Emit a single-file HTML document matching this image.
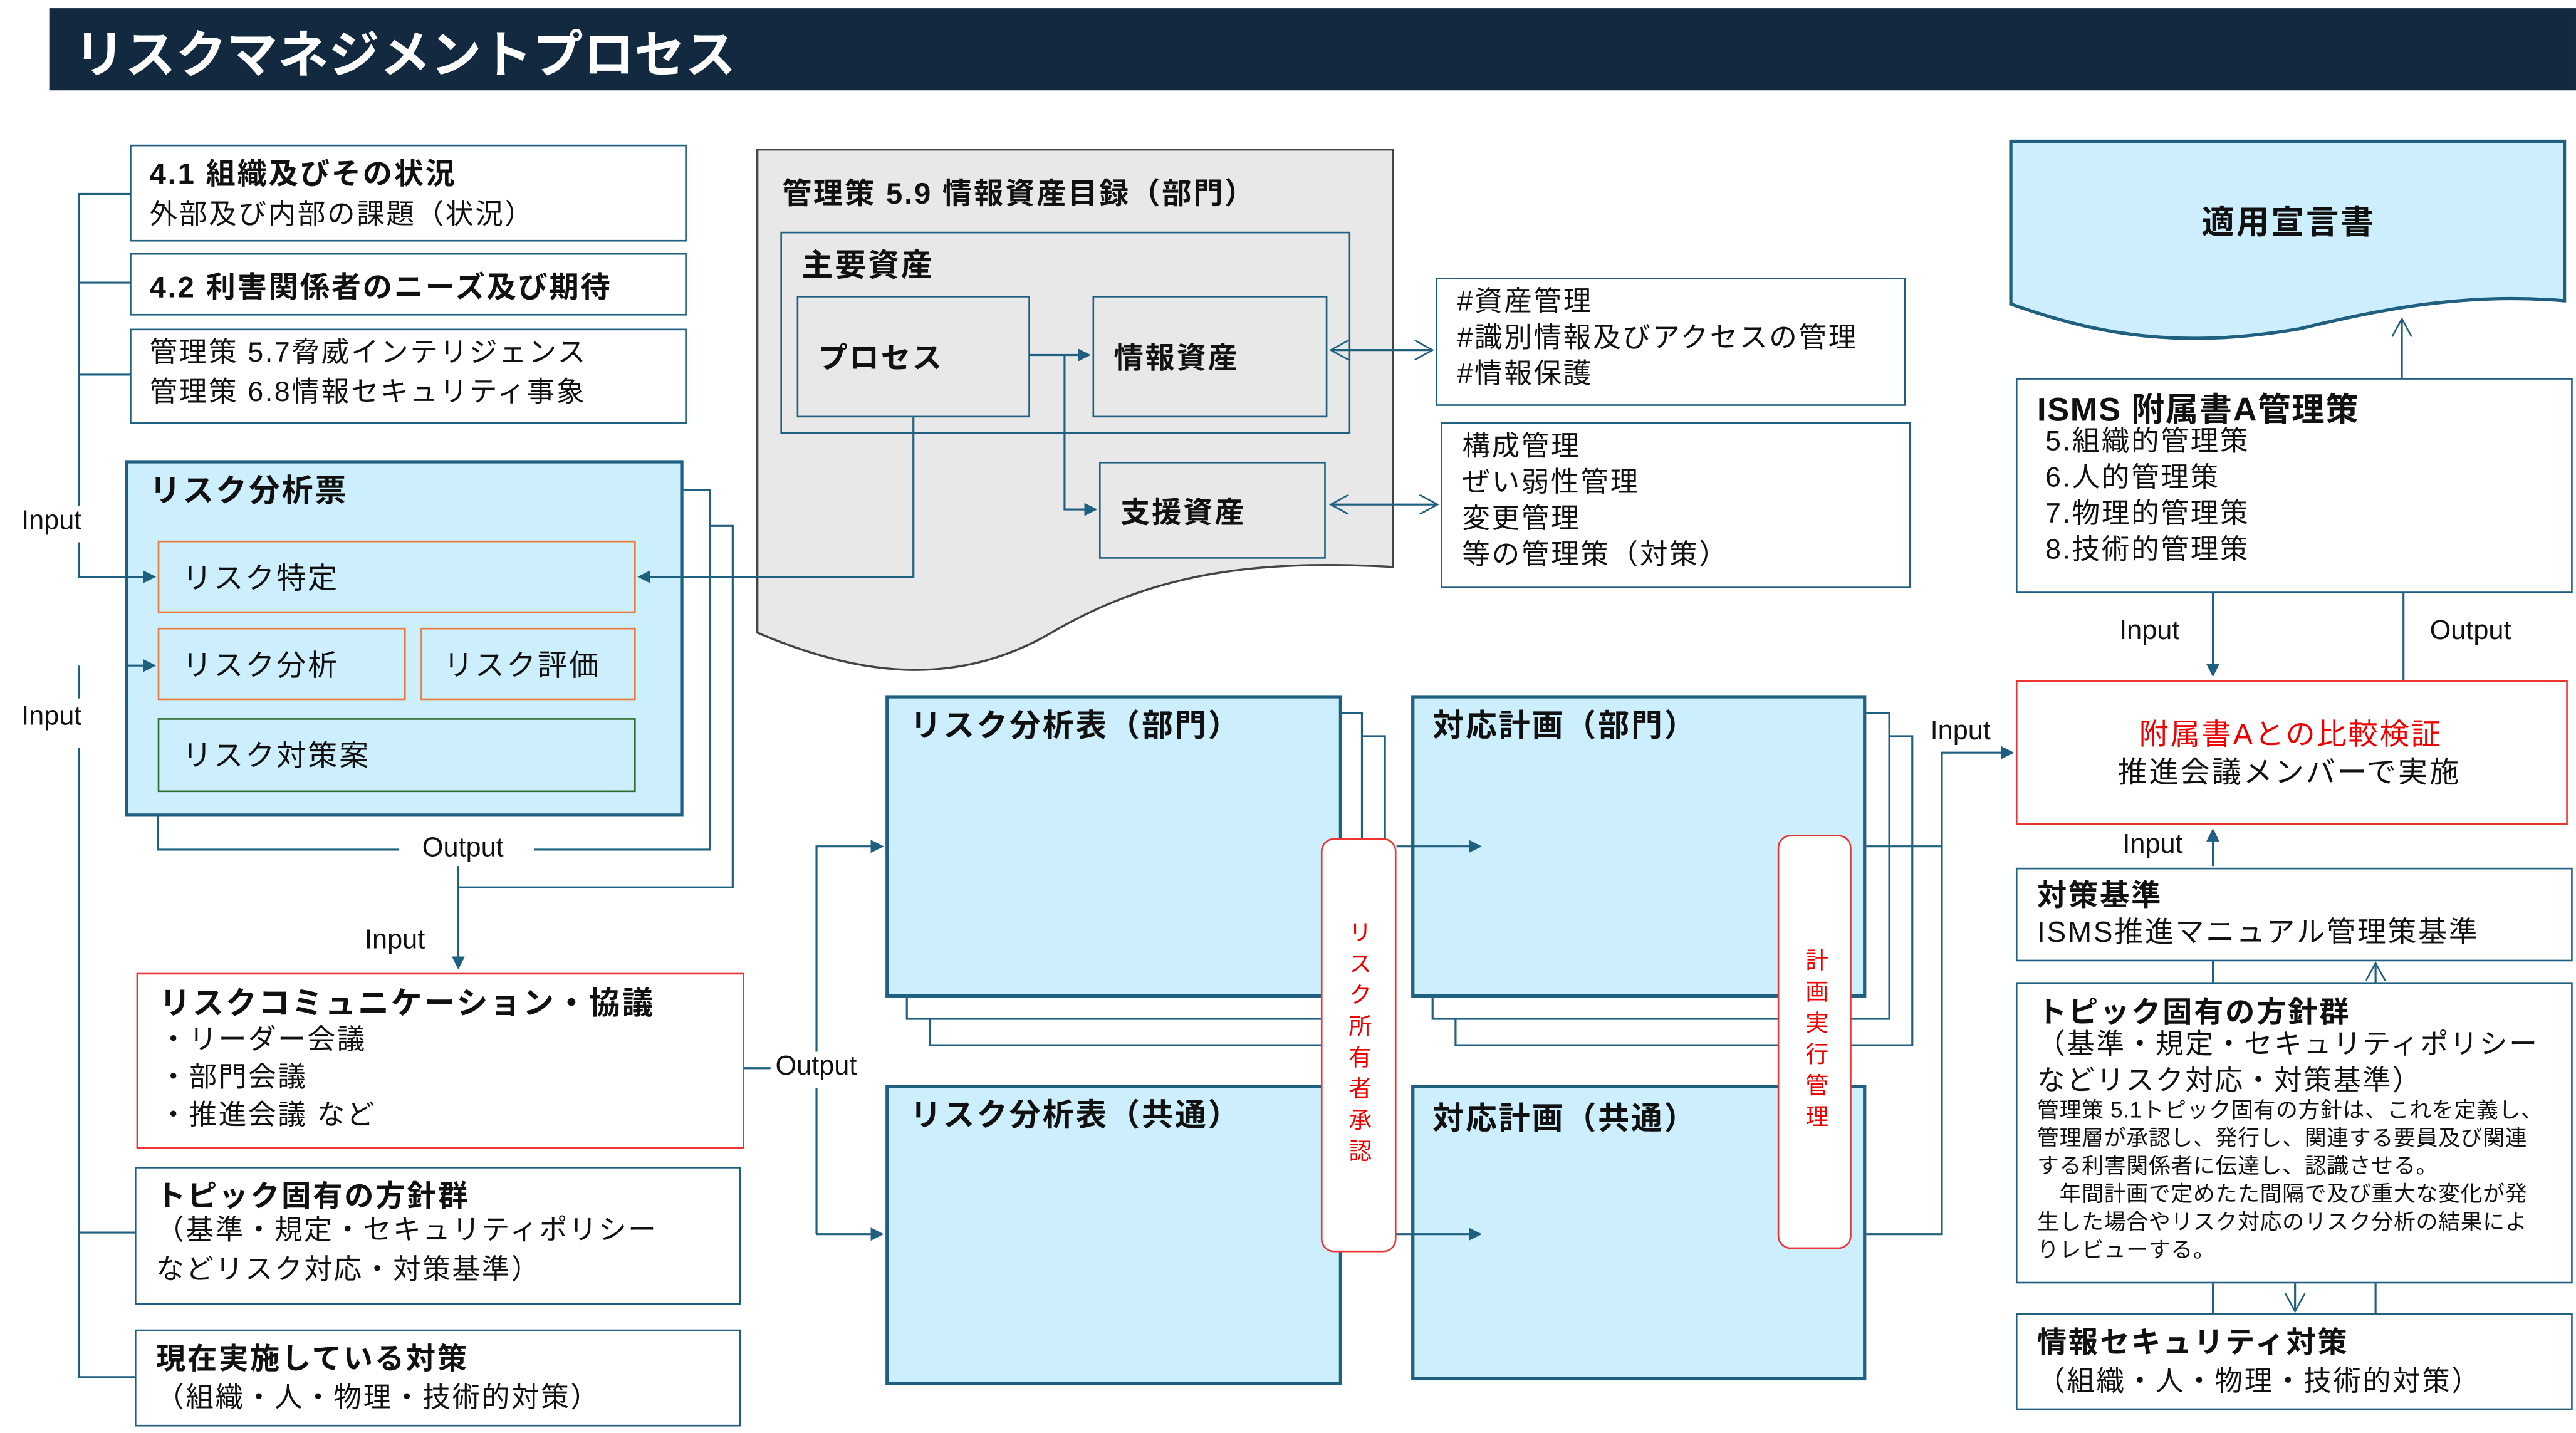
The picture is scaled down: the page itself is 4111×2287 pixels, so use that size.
<!DOCTYPE html>
<html><head><meta charset="utf-8">
<style>
html,body{margin:0;padding:0;background:#fff;}
body{width:4111px;height:2287px;overflow:hidden;}
#s{position:absolute;left:0;top:0;width:1568px;height:872px;transform:scale(2.6218,2.6227);transform-origin:0 0;font-family:"Liberation Sans","Noto Sans CJK JP",sans-serif;color:#111;}
.b{position:absolute;box-sizing:border-box;border:1.3px solid #1f5f80;background:#fff;}
.t{position:absolute;white-space:nowrap;letter-spacing:0.06em;}
.bold{font-weight:bold;}
.lb{background:#cdeefc;}
.thick{border:2.5px solid #1f5f80;}
.vt{writing-mode:vertical-rl;color:#e00;font-size:14px;position:absolute;letter-spacing:5px;}
.lab{position:absolute;white-space:nowrap;font-size:16.5px;}
</style></head><body><div id="s">
<div style="position:absolute;left:30px;top:5px;width:1538px;height:50px;background:#12293f;"></div>
<div class="t bold" style="left:45px;top:8px;font-size:31px;color:#fff;letter-spacing:0;">リスクマネジメントプロセス</div>

<svg style="position:absolute;left:0;top:0" width="1568" height="872">
<path d="M461,91 L848,91 L848,345 C760,340 700,350 640,385 C580,420 520,410 461,385 Z" fill="#e8e8e8" stroke="#444" stroke-width="1.3"/>
<path d="M1224,86 L1561,86 L1561,183 C1500,178 1450,188 1400,200 C1330,212 1280,205 1224,185 Z" fill="#cdeefc" stroke="#1f5f80" stroke-width="2"/>
</svg>

<div class="b" style="left:79px;top:88px;width:339px;height:59px;"></div>
<div class="t bold" style="left:91px;top:92px;font-size:18px;">4.1 組織及びその状況</div>
<div class="t" style="left:91px;top:116px;font-size:17px;">外部及び内部の課題（状況）</div>
<div class="b" style="left:79px;top:154px;width:339px;height:38px;"></div>
<div class="t bold" style="left:91px;top:161px;font-size:18px;">4.2 利害関係者のニーズ及び期待</div>
<div class="b" style="left:79px;top:200px;width:339px;height:58px;"></div>
<div class="t" style="left:91px;top:203px;font-size:17px;line-height:24px;">管理策 5.7脅威インテリジェンス<br>管理策 6.8情報セキュリティ事象</div>
<div class="lab" style="left:13px;top:308px;">Input</div>
<div class="lab" style="left:13px;top:427px;">Input</div>

<div class="b lb thick" style="left:76px;top:280px;width:340px;height:217px;"></div>
<div class="t bold" style="left:91px;top:284px;font-size:19px;">リスク分析票</div>
<div class="b lb" style="left:96px;top:329px;width:291px;height:44px;border-color:#e87a3a;"></div>
<div class="t" style="left:111px;top:338px;font-size:18px;">リスク特定</div>
<div class="b lb" style="left:96px;top:382px;width:151px;height:44px;border-color:#e87a3a;"></div>
<div class="t" style="left:111px;top:391px;font-size:18px;">リスク分析</div>
<div class="b lb" style="left:256px;top:382px;width:131px;height:44px;border-color:#e87a3a;"></div>
<div class="t" style="left:270px;top:391px;font-size:18px;">リスク評価</div>
<div class="b lb" style="left:96px;top:437px;width:291px;height:45px;border-color:#2e6b2e;"></div>
<div class="t" style="left:111px;top:446px;font-size:18px;">リスク対策案</div>
<div class="lab" style="left:257px;top:507px;">Output</div>
<div class="lab" style="left:222px;top:563px;">Input</div>

<div class="b" style="left:83px;top:592px;width:370px;height:107px;border-color:#e33;"></div>
<div class="t bold" style="left:97px;top:596px;font-size:19px;">リスクコミュニケーション・協議</div>
<div class="t" style="left:97px;top:621px;font-size:17px;line-height:23px;">・リーダー会議<br>・部門会議<br>・推進会議 など</div>
<div class="b" style="left:82px;top:710px;width:369px;height:84px;"></div>
<div class="t bold" style="left:95px;top:714px;font-size:18px;">トピック固有の方針群</div>
<div class="t" style="left:95px;top:737px;font-size:17px;line-height:24px;">（基準・規定・セキュリティポリシー<br>などリスク対応・対策基準）</div>
<div class="b" style="left:82px;top:809px;width:369px;height:59px;"></div>
<div class="t bold" style="left:95px;top:813px;font-size:18px;">現在実施している対策</div>
<div class="t" style="left:95px;top:836px;font-size:17px;">（組織・人・物理・技術的対策）</div>
<div class="lab" style="left:472px;top:640px;">Output</div>

<div class="t bold" style="left:476px;top:104px;font-size:18px;">管理策 5.9 情報資産目録（部門）</div>
<div class="b" style="left:475px;top:141px;width:347px;height:123px;background:transparent;"></div>
<div class="t bold" style="left:488px;top:147px;font-size:19px;">主要資産</div>
<div class="b" style="left:485px;top:180px;width:142px;height:74px;background:#e8e8e8;"></div>
<div class="t bold" style="left:498px;top:204px;font-size:18px;">プロセス</div>
<div class="b" style="left:665px;top:180px;width:143px;height:74px;background:#e8e8e8;"></div>
<div class="t bold" style="left:678px;top:204px;font-size:18px;">情報資産</div>
<div class="b" style="left:669px;top:281px;width:138px;height:59px;background:#e8e8e8;"></div>
<div class="t bold" style="left:682px;top:298px;font-size:18px;">支援資産</div>
<div class="b" style="left:874px;top:169px;width:286px;height:78px;"></div>
<div class="t" style="left:887px;top:173px;font-size:17px;line-height:22px;">#資産管理<br>#識別情報及びアクセスの管理<br>#情報保護</div>
<div class="b" style="left:877px;top:257px;width:286px;height:101px;"></div>
<div class="t" style="left:890px;top:261px;font-size:17px;line-height:22px;">構成管理<br>ぜい弱性管理<br>変更管理<br>等の管理策（対策）</div>

<div class="b lb thick" style="left:539px;top:423px;width:278px;height:184px;"></div>
<div class="t bold" style="left:554px;top:427px;font-size:19px;">リスク分析表（部門）</div>
<div class="b lb thick" style="left:539px;top:660px;width:278px;height:183px;"></div>
<div class="t bold" style="left:554px;top:664px;font-size:19px;">リスク分析表（共通）</div>
<div class="b lb thick" style="left:859px;top:423px;width:277px;height:184px;"></div>
<div class="t bold" style="left:872px;top:427px;font-size:19px;">対応計画（部門）</div>
<div class="b lb thick" style="left:859px;top:660px;width:277px;height:180px;"></div>
<div class="t bold" style="left:872px;top:666px;font-size:19px;">対応計画（共通）</div>
<div class="lab" style="left:1175px;top:436px;">Input</div>

<div class="t bold" style="left:1340px;top:119px;font-size:20px;">適用宣言書</div>
<div class="b" style="left:1227px;top:230px;width:339px;height:131px;"></div>
<div class="t bold" style="left:1240px;top:233px;font-size:20px;letter-spacing:0.03em;">ISMS 附属書A管理策</div>
<div class="t" style="left:1245px;top:258px;font-size:17px;line-height:22px;">5.組織的管理策<br>6.人的管理策<br>7.物理的管理策<br>8.技術的管理策</div>
<div class="lab" style="left:1290px;top:375px;">Input</div>
<div class="lab" style="left:1479px;top:375px;">Output</div>
<div class="b" style="left:1227px;top:414px;width:336px;height:88px;border-color:#e33;"></div>
<div class="t" style="left:1302px;top:433px;font-size:18px;color:#e00;">附属書Aとの比較検証</div>
<div class="t" style="left:1289px;top:456px;font-size:18px;">推進会議メンバーで実施</div>
<div class="lab" style="left:1292px;top:505px;">Input</div>
<div class="b" style="left:1227px;top:528px;width:339px;height:57px;"></div>
<div class="t bold" style="left:1240px;top:531px;font-size:18px;">対策基準</div>
<div class="t" style="left:1240px;top:554px;font-size:17.5px;">ISMS推進マニュアル管理策基準</div>
<div class="b" style="left:1227px;top:598px;width:339px;height:183px;"></div>
<div class="t bold" style="left:1240px;top:602px;font-size:18px;">トピック固有の方針群</div>
<div class="t" style="left:1240px;top:625px;font-size:17px;line-height:22px;">（基準・規定・セキュリティポリシー<br>などリスク対応・対策基準）</div>
<div class="t" style="left:1240px;top:667px;font-size:13.3px;line-height:17px;letter-spacing:0.02em;">管理策 5.1トピック固有の方針は、これを定義し、<br>管理層が承認し、発行し、関連する要員及び関連<br>する利害関係者に伝達し、認識させる。<br>　年間計画で定めたた間隔で及び重大な変化が発<br>生した場合やリスク対応のリスク分析の結果によ<br>りレビューする。</div>
<div class="b" style="left:1227px;top:799px;width:339px;height:59px;"></div>
<div class="t bold" style="left:1240px;top:803px;font-size:18px;">情報セキュリティ対策</div>
<div class="t" style="left:1240px;top:826px;font-size:17px;">（組織・人・物理・技術的対策）</div>

<svg style="position:absolute;left:0;top:0" width="1568" height="872">
<defs>
<marker id="a" markerWidth="8" markerHeight="8" refX="7" refY="4" orient="auto" markerUnits="userSpaceOnUse"><path d="M0,0 L8,4 L0,8 z" fill="#1f5f80"/></marker>
<marker id="o" markerWidth="12" markerHeight="12" refX="11" refY="6" orient="auto" markerUnits="userSpaceOnUse"><path d="M0,0 L11,6 L0,12" fill="none" stroke="#1f5f80" stroke-width="1"/></marker>
</defs>
<g fill="none" stroke="#1f5f80" stroke-width="1.2">
<path d="M79,118 H48 V308 M48,330 V351 H94" marker-end="url(#a)"/>
<path d="M79,172 H48 M79,228 H48"/>
<path d="M48,405 V425 M48,455 V838 H82 M48,750 H82"/>
<path d="M78,405 H94" marker-end="url(#a)"/>
<path d="M416,298 H432 V517 H325 M243,517 H96 V497"/>
<path d="M432,320 H446 V540 H279"/>
<path d="M279,527 V589" marker-end="url(#a)"/>
<path d="M556,254 V351 H389" marker-end="url(#a)"/>
<path d="M627,216 H663" marker-end="url(#a)"/>
<path d="M648,216 V310 H667" marker-end="url(#a)"/>
<path d="M830,213 H810" marker-end="url(#o)"/><path d="M850,213 H872" marker-end="url(#o)"/><path d="M830,213 H850"/>
<path d="M830,307 H810" marker-end="url(#o)"/><path d="M850,307 H875" marker-end="url(#o)"/><path d="M830,307 H850"/>
<path d="M1462,230 V194" marker-end="url(#o)"/>
<path d="M1347,361 V411" marker-end="url(#a)"/>
<path d="M1463,361 V414"/>
<path d="M1347,527 V505" marker-end="url(#a)"/>
<path d="M1347,585 V598"/>
<path d="M1446,598 V586" marker-end="url(#o)"/>
<path d="M1347,781 V799 M1446,781 V799"/>
<path d="M1397,781 V798" marker-end="url(#o)"/>
<path d="M817,434 H829 V620 H552 V607"/>
<path d="M829,448 H843 V636 H566 V620"/>
<path d="M1136,434 H1150 V620 H872 V607"/>
<path d="M1150,448 H1164 V636 H886 V620"/>
<path d="M453,650 H469 M497,662 V751"/>
<path d="M497,640 V515 H537" marker-end="url(#a)"/>
<path d="M497,751 H537" marker-end="url(#a)"/>
<path d="M850,515 H901" marker-end="url(#a)"/>
<path d="M850,751 H901" marker-end="url(#a)"/>
<path d="M1136,515 H1182 M1136,751 H1182 V458 H1225" marker-end="url(#a)"/>
</g>
</svg>

<div class="b" style="left:804px;top:510px;width:46px;height:252px;border-color:#e33;border-radius:8px;"></div>
<div class="vt" style="left:818px;top:560px;">リスク所有者承認</div>
<div class="b" style="left:1082px;top:508px;width:45px;height:252px;border-color:#e33;border-radius:8px;"></div>
<div class="vt" style="left:1096px;top:577px;">計画実行管理</div>
</div></body></html>
